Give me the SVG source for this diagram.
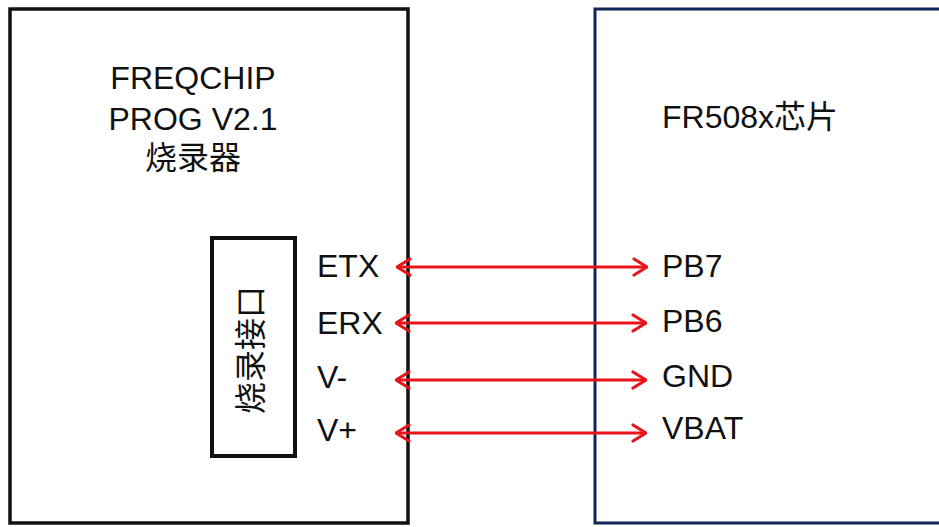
<svg xmlns="http://www.w3.org/2000/svg" width="939" height="527" viewBox="0 0 939 527">
<style>
.t{font-family:"Liberation Sans",Arial,"Noto Sans CJK SC",sans-serif;font-size:32px;fill:#111}
.c{stroke:#e8141c;stroke-width:3;fill:none}
</style>
<defs>
<marker id="ah" viewBox="0 0 16 20" refX="15" refY="10" markerWidth="16" markerHeight="20" markerUnits="userSpaceOnUse" orient="auto-start-reverse">
<path d="M2,2 L15,10 L2,18" fill="none" stroke="#e8141c" stroke-width="3.2" stroke-linecap="round" stroke-linejoin="round"/>
</marker>
</defs>
<rect width="939" height="527" fill="#fff"/>
<g id="programmer">
<rect x="10" y="9" width="398" height="514" fill="none" stroke="#111" stroke-width="3.5"/>
<text class="t" x="193" y="89" text-anchor="middle">FREQCHIP</text>
<text class="t" x="193" y="130" text-anchor="middle">PROG V2.1</text>
<text class="t" x="193" y="169" text-anchor="middle">烧录器</text>
</g>
<g id="interface">
<rect x="212" y="238" width="83" height="218" fill="none" stroke="#111" stroke-width="4"/>
<text class="t" transform="translate(262,350) rotate(-90)" text-anchor="middle">烧录接口</text>
</g>
<g id="pins-left">
<text class="t" x="317" y="277">ETX</text>
<text class="t" x="317" y="334">ERX</text>
<text class="t" x="317" y="388">V-</text>
<text class="t" x="317" y="441">V+</text>
</g>
<g id="chip">
<rect x="595" y="9" width="360" height="514" fill="none" stroke="#0f2657" stroke-width="3"/>
<text class="t" x="662" y="128">FR508x芯片</text>
<text class="t" x="662" y="277">PB7</text>
<text class="t" x="662" y="332">PB6</text>
<text class="t" x="662" y="387">GND</text>
<text class="t" x="662" y="439">VBAT</text>
</g>
<g id="connectors">
<line class="c" x1="397" y1="267" x2="647" y2="267" marker-start="url(#ah)" marker-end="url(#ah)"/>
<line class="c" x1="396" y1="323" x2="646" y2="323" marker-start="url(#ah)" marker-end="url(#ah)"/>
<line class="c" x1="396" y1="380" x2="646" y2="380" marker-start="url(#ah)" marker-end="url(#ah)"/>
<line class="c" x1="396" y1="433" x2="646" y2="433" marker-start="url(#ah)" marker-end="url(#ah)"/>
</g>
</svg>
